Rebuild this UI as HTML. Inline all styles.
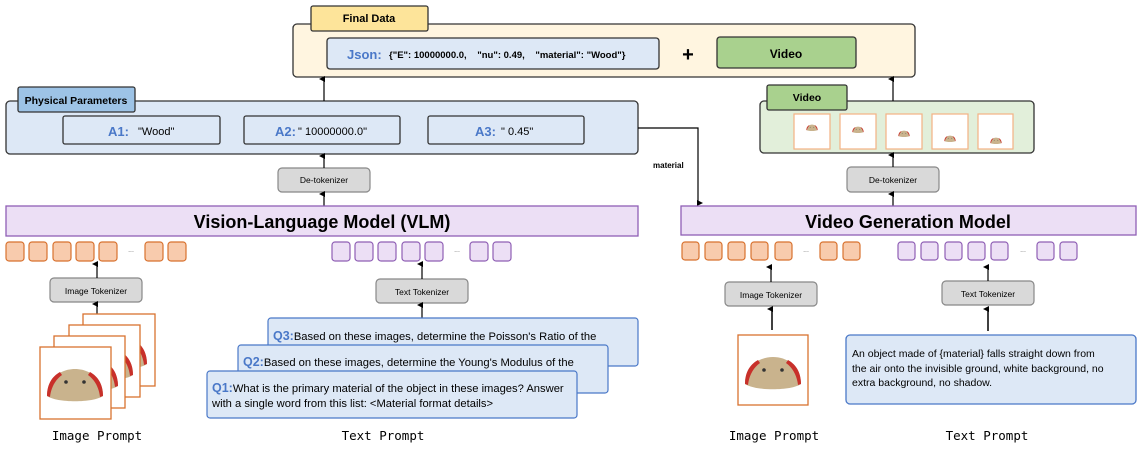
<!DOCTYPE html>
<html><head><meta charset="utf-8"><style>
html,body{margin:0;padding:0;background:#fff;}
svg text{font-family:"Liberation Sans",sans-serif;}
.m{font-family:"DejaVu Sans Mono",monospace !important;}
</style></head><body>
<svg width="1142" height="449" viewBox="0 0 1142 449" xmlns="http://www.w3.org/2000/svg">
<defs>
<marker id="ar" markerWidth="6" markerHeight="6" refX="3" refY="5" orient="auto-start-reverse" markerUnits="userSpaceOnUse"><path d="M0,6 L3,0 L6,6 z" fill="#000"/></marker>
<g id="blob">
<path d="M-28,10 C-28,-8 -14,-17 0,-17 C14,-17 28,-8 28,10 C18,17 -18,17 -28,10 z" fill="#c9b38d"/>
<path d="M-28,10 C-28,-3 -22,-10 -15,-14 L-13,-11 C-20,-6 -24,2 -25,11 z" fill="#c8302a"/>
<path d="M28,10 C28,-3 22,-10 15,-14 L13,-11 C20,-6 24,2 25,11 z" fill="#c8302a"/>
<circle cx="-9" cy="-4" r="1.8" fill="#333"/><circle cx="9" cy="-4" r="1.8" fill="#333"/>
</g>
</defs>

<!-- Final data -->
<rect x="293" y="24" width="622" height="53" rx="4" fill="#fff5e0" stroke="#333" stroke-width="1.3"/>
<rect x="311" y="6" width="117" height="25" rx="2" fill="#fde49a" stroke="#333" stroke-width="1.3"/>
<text x="369" y="22" font-size="11" font-weight="bold" text-anchor="middle">Final Data</text>
<rect x="327" y="38" width="332" height="31" rx="3" fill="#dde8f6" stroke="#333" stroke-width="1.3"/>
<text x="347" y="59" font-size="13" fill="#4a78c8" font-weight="bold">Json:</text>
<text x="389" y="58" font-size="9.5" font-weight="bold" xml:space="preserve">{"E": 10000000.0,    "nu": 0.49,    "material": "Wood"}</text>
<text x="688" y="61" font-size="20" font-weight="bold" text-anchor="middle">+</text>
<rect x="717" y="37" width="139" height="31" rx="3" fill="#a9d18e" stroke="#333" stroke-width="1.3"/>
<text x="786" y="58" font-size="12" font-weight="bold" text-anchor="middle">Video</text>

<!-- Physical parameters -->
<rect x="6" y="101" width="632" height="53" rx="4" fill="#dde8f6" stroke="#333" stroke-width="1.3"/>
<rect x="18" y="87" width="117" height="25" rx="2" fill="#9dc3e6" stroke="#333" stroke-width="1.3"/>
<text x="76" y="104" font-size="10.5" font-weight="bold" text-anchor="middle">Physical Parameters</text>
<rect x="63" y="116" width="157" height="28" rx="2" fill="#dde8f6" stroke="#333" stroke-width="1.3"/>
<text x="108" y="136" font-size="13" fill="#4a78c8" font-weight="bold">A1:</text><text x="138" y="135" font-size="11">"Wood"</text>
<rect x="244" y="116" width="156" height="28" rx="2" fill="#dde8f6" stroke="#333" stroke-width="1.3"/>
<text x="275" y="136" font-size="13" fill="#4a78c8" font-weight="bold">A2:</text><text x="298" y="135" font-size="11">" 10000000.0"</text>
<rect x="428" y="116" width="156" height="28" rx="2" fill="#dde8f6" stroke="#333" stroke-width="1.3"/>
<text x="475" y="136" font-size="13" fill="#4a78c8" font-weight="bold">A3:</text><text x="501" y="135" font-size="11">" 0.45"</text>

<line x1="324" y1="101" x2="324" y2="79" stroke="#000" stroke-width="1.2" marker-end="url(#ar)"/>
<rect x="278" y="168" width="92" height="24" rx="4" fill="#d9d9d9" stroke="#888" stroke-width="1.2"/>
<text x="324" y="183" font-size="8.5" text-anchor="middle">De-tokenizer</text>
<line x1="324" y1="168" x2="324" y2="156" stroke="#000" stroke-width="1.2" marker-end="url(#ar)"/>
<line x1="324" y1="206" x2="324" y2="194" stroke="#000" stroke-width="1.2" marker-end="url(#ar)"/>

<!-- material -->
<polyline points="638,128 698,128 698,203" fill="none" stroke="#000" stroke-width="1.2" marker-end="url(#ar)"/>
<text x="653" y="168" font-size="8" font-weight="bold">material</text>

<!-- Video container -->
<rect x="760" y="101" width="274" height="52" rx="4" fill="#e2efda" stroke="#333" stroke-width="1.3"/>
<rect x="767" y="85" width="80" height="25" rx="2" fill="#a9d18e" stroke="#333" stroke-width="1.3"/>
<text x="807" y="101" font-size="10.5" font-weight="bold" text-anchor="middle">Video</text>
<g stroke="#f4b183" stroke-width="1.2" fill="#fff">
<rect x="794" y="114" width="36" height="35"/><rect x="840" y="114" width="36" height="35"/><rect x="886" y="114" width="36" height="35"/><rect x="932" y="114" width="36" height="35"/><rect x="978" y="114" width="35" height="35"/>
</g>
<use href="#blob" transform="translate(812,128) scale(0.2)"/>
<use href="#blob" transform="translate(858,130) scale(0.2)"/>
<use href="#blob" transform="translate(904,134) scale(0.2)"/>
<use href="#blob" transform="translate(950,139) scale(0.2)"/>
<use href="#blob" transform="translate(996,141) scale(0.2)"/>
<line x1="893" y1="101" x2="893" y2="79" stroke="#000" stroke-width="1.2" marker-end="url(#ar)"/>
<rect x="847" y="167" width="92" height="25" rx="4" fill="#d9d9d9" stroke="#888" stroke-width="1.2"/>
<text x="893" y="183" font-size="8.5" text-anchor="middle">De-tokenizer</text>
<line x1="893" y1="167" x2="893" y2="155" stroke="#000" stroke-width="1.2" marker-end="url(#ar)"/>
<line x1="893" y1="206" x2="893" y2="194" stroke="#000" stroke-width="1.2" marker-end="url(#ar)"/>

<!-- VLM -->
<rect x="6" y="206" width="632" height="30" fill="#ecdff5" stroke="#8f5fb5" stroke-width="1.3"/>
<text x="322" y="228" font-size="18" font-weight="bold" text-anchor="middle">Vision-Language Model (VLM)</text>
<rect x="681" y="206" width="455" height="29" fill="#ecdff5" stroke="#8f5fb5" stroke-width="1.3"/>
<text x="908" y="228" font-size="18" font-weight="bold" text-anchor="middle">Video Generation Model</text>

<!-- tokens -->
<g fill="#f8cbad" stroke="#d8722f" stroke-width="1.2">
<rect x="6" y="242" width="18" height="19" rx="3"/><rect x="29" y="242" width="18" height="19" rx="3"/><rect x="53" y="242" width="18" height="19" rx="3"/><rect x="76" y="242" width="18" height="19" rx="3"/><rect x="99" y="242" width="18" height="19" rx="3"/><rect x="145" y="242" width="18" height="19" rx="3"/><rect x="168" y="242" width="18" height="19" rx="3"/>
<rect x="682" y="242" width="17" height="18" rx="3"/><rect x="705" y="242" width="17" height="18" rx="3"/><rect x="728" y="242" width="17" height="18" rx="3"/><rect x="751" y="242" width="17" height="18" rx="3"/><rect x="775" y="242" width="17" height="18" rx="3"/><rect x="820" y="242" width="17" height="18" rx="3"/><rect x="843" y="242" width="17" height="18" rx="3"/>
</g>
<g fill="#ecdff5" stroke="#8f5fb5" stroke-width="1.2">
<rect x="332" y="242" width="18" height="19" rx="3"/><rect x="355" y="242" width="18" height="19" rx="3"/><rect x="378" y="242" width="18" height="19" rx="3"/><rect x="402" y="242" width="18" height="19" rx="3"/><rect x="425" y="242" width="18" height="19" rx="3"/><rect x="470" y="242" width="18" height="19" rx="3"/><rect x="493" y="242" width="18" height="19" rx="3"/>
<rect x="898" y="242" width="17" height="18" rx="3"/><rect x="921" y="242" width="17" height="18" rx="3"/><rect x="945" y="242" width="17" height="18" rx="3"/><rect x="968" y="242" width="17" height="18" rx="3"/><rect x="991" y="242" width="17" height="18" rx="3"/><rect x="1037" y="242" width="17" height="18" rx="3"/><rect x="1060" y="242" width="17" height="18" rx="3"/>
</g>
<g font-size="7" fill="#666" text-anchor="middle"><text x="131" y="252">...</text><text x="457" y="252">...</text><text x="806" y="252">...</text><text x="1023" y="252">...</text></g>

<!-- Left tokenizers -->
<rect x="50" y="278" width="92" height="24" rx="4" fill="#d9d9d9" stroke="#888" stroke-width="1.2"/>
<text x="96" y="294" font-size="8.5" text-anchor="middle">Image Tokenizer</text>
<line x1="97" y1="278" x2="97" y2="264" stroke="#000" stroke-width="1.2" marker-end="url(#ar)"/>
<line x1="97" y1="314" x2="97" y2="304" stroke="#000" stroke-width="1.2" marker-end="url(#ar)"/>
<rect x="376" y="279" width="92" height="24" rx="4" fill="#d9d9d9" stroke="#888" stroke-width="1.2"/>
<text x="422" y="295" font-size="8.5" text-anchor="middle">Text Tokenizer</text>
<line x1="422" y1="279" x2="422" y2="264" stroke="#000" stroke-width="1.2" marker-end="url(#ar)"/>
<line x1="422" y1="318" x2="422" y2="305" stroke="#000" stroke-width="1.2" marker-end="url(#ar)"/>

<!-- image stack -->
<rect x="83" y="314" width="72" height="72" fill="#fff" stroke="#d8722f" stroke-width="1.3"/>
<use href="#blob" transform="translate(119,354)"/>
<rect x="69" y="325" width="71" height="72" fill="#fff" stroke="#d8722f" stroke-width="1.3"/>
<use href="#blob" transform="translate(105,365)"/>
<rect x="54" y="336" width="71" height="72" fill="#fff" stroke="#d8722f" stroke-width="1.3"/>
<use href="#blob" transform="translate(90,376)"/>
<rect x="40" y="347" width="71" height="72" fill="#fff" stroke="#d8722f" stroke-width="1.3"/>
<use href="#blob" transform="translate(75,386)"/>
<text class="m" x="97" y="440" font-size="12.5" text-anchor="middle">Image Prompt</text>
<text class="m" x="383" y="440" font-size="12.5" text-anchor="middle">Text Prompt</text>

<!-- Q boxes -->
<rect x="268" y="318" width="370" height="48" rx="3" fill="#dde8f6" stroke="#4a78c8" stroke-width="1.2"/>
<text x="273" y="340" font-size="11.2"><tspan fill="#4a78c8" font-weight="bold" font-size="12.5">Q3:</tspan>Based on these images, determine the Poisson's Ratio  of the</text>
<rect x="238" y="345" width="370" height="48" rx="3" fill="#dde8f6" stroke="#4a78c8" stroke-width="1.2"/>
<text x="243" y="366" font-size="11.2"><tspan fill="#4a78c8" font-weight="bold" font-size="12.5">Q2:</tspan>Based on these images, determine the Young's Modulus of the</text>
<rect x="207" y="371" width="370" height="47" rx="3" fill="#dde8f6" stroke="#4a78c8" stroke-width="1.2"/>
<text x="212" y="392" font-size="11.2"><tspan fill="#4a78c8" font-weight="bold" font-size="12.5">Q1:</tspan>What is the primary material of the object in these images? Answer</text>
<text x="212" y="407" font-size="11.2">with a single word from this list: &lt;Material format details&gt;</text>

<!-- Right tokenizers -->
<rect x="725" y="282" width="92" height="24" rx="4" fill="#d9d9d9" stroke="#888" stroke-width="1.2"/>
<text x="771" y="298" font-size="8.5" text-anchor="middle">Image Tokenizer</text>
<line x1="771" y1="282" x2="771" y2="267" stroke="#000" stroke-width="1.2" marker-end="url(#ar)"/>
<line x1="772" y1="330" x2="772" y2="309" stroke="#000" stroke-width="1.5" marker-end="url(#ar)"/>
<rect x="942" y="281" width="92" height="24" rx="4" fill="#d9d9d9" stroke="#888" stroke-width="1.2"/>
<text x="988" y="297" font-size="8.5" text-anchor="middle">Text Tokenizer</text>
<line x1="988" y1="281" x2="988" y2="267" stroke="#000" stroke-width="1.2" marker-end="url(#ar)"/>
<line x1="988" y1="331" x2="988" y2="309" stroke="#000" stroke-width="1.5" marker-end="url(#ar)"/>
<rect x="738" y="335" width="70" height="70" fill="#fff" stroke="#d8722f" stroke-width="1.3"/>
<use href="#blob" transform="translate(773,374)"/>
<rect x="846" y="335" width="290" height="69" rx="4" fill="#dde8f6" stroke="#4a78c8" stroke-width="1.3"/>
<text x="852" y="357" font-size="10.5">An object made of  {material} falls straight down from</text>
<text x="852" y="372" font-size="10.5">the air onto the invisible ground, white background, no</text>
<text x="852" y="386" font-size="10.5">extra background, no shadow.</text>
<text class="m" x="774" y="440" font-size="12.5" text-anchor="middle">Image Prompt</text>
<text class="m" x="987" y="440" font-size="12.5" text-anchor="middle">Text Prompt</text>
</svg>
</body></html>
